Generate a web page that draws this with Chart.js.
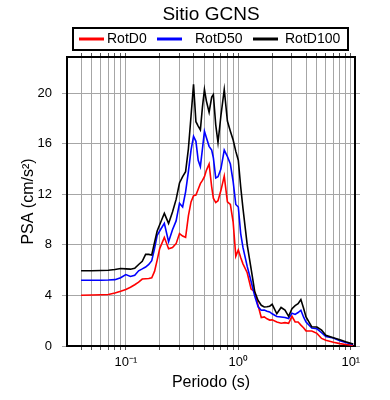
<!DOCTYPE html>
<html>
<head>
<meta charset="utf-8">
<script src="https://cdn.jsdelivr.net/npm/chart.js@4.4.1/dist/chart.umd.min.js"></script>
<style>
  html, body { margin: 0; padding: 0; background: #fff; }
</style>
</head>
<body>
<canvas id="grafico" width="390" height="400"></canvas>
<script>
// Periodos (s) y espectros PSA (cm/s2)
var periodos = [0.04, 0.05, 0.06, 0.07, 0.08, 0.09, 0.10, 0.11, 0.12, 0.13, 0.14, 0.15, 0.16, 0.17, 0.18, 0.19, 0.20,
  0.22, 0.24, 0.26, 0.28, 0.30, 0.32, 0.34, 0.36, 0.38, 0.40, 0.42, 0.44, 0.46, 0.48, 0.50,
  0.52, 0.55, 0.58, 0.60, 0.63, 0.66, 0.70, 0.75, 0.80, 0.85, 0.90, 0.95, 1.00, 1.05, 1.10,
  1.2, 1.3, 1.4, 1.5, 1.6, 1.7, 1.8, 1.9, 2.0,
  2.2, 2.4, 2.6, 2.8, 3.0, 3.2, 3.4, 3.6, 3.8, 4.0,
  4.5, 5.0, 5.5, 6.0, 7.0, 8.0, 9.0, 10.5];

var rotD0 = [4.02, 4.03, 4.05, 4.07, 4.2, 4.33, 4.47, 4.65, 4.85, 5.05, 5.3, 5.32, 5.34, 5.4, 5.9, 6.8, 7.7,
  8.6, 7.7, 7.8, 8.1, 8.9, 8.7, 8.6, 10.3, 11.4, 11.9, 11.94, 12.4, 12.85, 13.1, 13.4,
  13.9, 14.4, 12.6, 11.7, 11.35, 11.5, 12.3, 13.45, 11.4, 11.2, 9.8, 7.1, 7.6, 7.0, 6.5,
  5.8, 4.5, 4.3, 3.2, 2.25, 2.3, 2.15, 2.05, 2.07,
  1.9, 1.8, 1.85, 1.8, 2.35, 1.9, 1.9, 1.65, 1.45, 1.2,
  1.19, 1.0, 0.6, 0.45, 0.3, 0.19, 0.12, 0.05];

var rotD50 = [5.2, 5.2, 5.2, 5.22, 5.25, 5.4, 5.65, 5.5, 5.6, 5.95, 6.1, 6.25, 6.45, 6.75, 7.7, 8.75, 9.1,
  9.7, 8.25, 9.2, 9.9, 11.3, 11.0, 12.2, 13.8, 15.5, 16.6, 16.2, 14.7, 14.2, 15.6, 17.0,
  16.5, 15.8, 15.5, 14.9, 13.3, 13.4, 14.0, 15.5, 15.0, 14.4, 13.0, 11.2, 11.0, 8.9, 7.8,
  6.3, 5.1, 3.95, 3.1, 2.83, 2.85, 2.75, 2.7, 2.55,
  2.33, 2.3, 2.25, 2.17, 2.6, 2.5, 2.65, 2.83, 2.3, 1.9,
  1.42, 1.36, 1.05, 0.75, 0.63, 0.42, 0.28, 0.12];

var rotD100 = [5.95, 5.95, 5.97, 6.0, 6.05, 6.13, 6.1, 6.08, 6.15, 6.45, 6.7, 7.25, 7.25, 7.2, 8.2, 9.1, 9.6,
  10.5, 9.7, 10.6, 11.6, 12.9, 13.4, 13.8, 15.6, 18.2, 20.7, 17.75, 17.4, 17.1, 18.9, 20.3,
  19.4, 18.5, 19.7, 19.9, 17.5, 16.1, 18.2, 20.3, 17.8, 17.0, 16.3, 15.4, 14.7, 12.6, 10.9,
  8.0, 6.1, 4.3, 3.6, 3.22, 3.09, 3.1, 3.15, 3.3,
  2.55, 3.05, 2.85, 2.35, 2.95, 3.2, 3.35, 3.68, 3.0, 2.3,
  1.52, 1.5, 1.25, 0.85, 0.66, 0.5, 0.33, 0.15];

var xTicks = [0.04, 0.05, 0.06, 0.07, 0.08, 0.09, 0.1, 0.2, 0.3, 0.4, 0.5, 0.6, 0.7, 0.8, 0.9, 1, 2, 3, 4, 5, 6, 7, 8, 9, 10];
var xEtiquetas = { "0.1": "10\u207B\u00B9", "1": "10\u2070", "10": "10\u00B9" };
var yTicks = [0, 4, 8, 12, 16, 20];

var FUENTE = '"Liberation Sans", Arial, Helvetica, sans-serif';

function puntos(valores) {
  return periodos.map(function (p, i) {
    return { x: p, y: valores[i] };
  });
}

function setXTicks(scale) {
  scale.ticks = xTicks.map(function (v) { return { value: v }; });
}
function setYTicks(scale) {
  scale.ticks = yTicks.map(function (v) { return { value: v }; });
}

var series = [
  { label: "RotD0", data: rotD0, color: "#ff0000", order: 3 },
  { label: "RotD50", data: rotD50, color: "#0000ff", order: 2 },
  { label: "RotD100", data: rotD100, color: "#000000", order: 1 },
];

// título y leyenda con recuadro
var marcoPlugin = {
  id: "marco",
  afterDraw: function (chart) {
    var ctx = chart.ctx;
    var a = chart.chartArea;
    ctx.save();
    ctx.fillStyle = "#000";
    ctx.font = "19px " + FUENTE;
    ctx.textAlign = "center";
    ctx.textBaseline = "middle";
    ctx.fillText("Sitio GCNS", (a.left + a.right) / 2, 15);

    ctx.fillStyle = "#fff";
    ctx.fillRect(73, 28, 275, 22);
    ctx.lineWidth = 2;
    ctx.strokeStyle = "#000";
    ctx.strokeRect(73, 28, 275, 22);

    var segX = [79, 157, 253];
    var textX = [107, 195, 285];
    ctx.font = "14px " + FUENTE;
    ctx.textAlign = "left";
    chart.data.datasets.forEach(function (ds, i) {
      ctx.strokeStyle = ds.borderColor;
      ctx.lineWidth = 3;
      ctx.beginPath();
      ctx.moveTo(segX[i], 39);
      ctx.lineTo(segX[i] + 25, 39);
      ctx.stroke();
      ctx.fillStyle = "#000";
      ctx.fillText(ds.label, textX[i], 39.5);
    });
    ctx.restore();
  },
};

var gris = "#a6a6a6";
var borde = { display: true, color: "#000", width: 2 };

new Chart(document.getElementById("grafico"), {
  type: "line",
  data: {
    datasets: series.map(function (s) {
      return {
        label: s.label,
        data: puntos(s.data),
        borderColor: s.color,
        backgroundColor: s.color,
        borderWidth: 1.6,
        pointRadius: 0,
        tension: 0,
        order: s.order,
      };
    }),
  },
  options: {
    responsive: false,
    animation: false,
    devicePixelRatio: 1,
    layout: { padding: 0 },
    plugins: {
      legend: { display: false },
      title: { display: false },
      tooltip: { enabled: false },
    },
    scales: {
      x: {
        type: "logarithmic",
        position: "bottom",
        min: 0.03,
        max: 10.9,
        afterBuildTicks: setXTicks,
        afterFit: function (s) { s.height = 54; },
        border: borde,
        grid: { color: gris, lineWidth: 1, drawTicks: true, tickLength: 4, tickColor: "#555" },
        ticks: {
          autoSkip: false,
          maxRotation: 0,
          padding: 5,
          color: "#000",
          font: { family: FUENTE, size: 13 },
          callback: function (v) { return xEtiquetas[String(v)] || ""; },
        },
        title: {
          display: true,
          text: "Periodo (s)",
          color: "#000",
          font: { family: FUENTE, size: 16 },
          padding: { top: 0, bottom: 8 },
        },
      },
      x2: {
        type: "logarithmic",
        position: "top",
        min: 0.03,
        max: 10.9,
        afterBuildTicks: setXTicks,
        afterFit: function (s) { s.height = 57; },
        border: borde,
        grid: { drawOnChartArea: false, drawTicks: true, tickLength: 4, tickColor: "#555" },
        ticks: { display: false },
      },
      y: {
        type: "linear",
        position: "left",
        min: 0,
        max: 22.87,
        afterBuildTicks: setYTicks,
        afterFit: function (s) { s.width = 67; },
        border: borde,
        grid: { color: gris, lineWidth: 1, drawTicks: true, tickLength: 5, tickColor: gris },
        ticks: {
          padding: 10,
          color: "#000",
          font: { family: FUENTE, size: 13 },
        },
        title: {
          display: true,
          text: "PSA (cm/s\u00B2)",
          color: "#000",
          font: { family: FUENTE, size: 16 },
          padding: { top: 19, bottom: 0 },
        },
      },
      y2: {
        type: "linear",
        position: "right",
        min: 0,
        max: 22.87,
        afterBuildTicks: setYTicks,
        afterFit: function (s) { s.width = 35; },
        border: borde,
        grid: { drawOnChartArea: false, drawTicks: true, tickLength: 5, tickColor: gris },
        ticks: { display: false },
      },
    },
  },
  plugins: [marcoPlugin],
});
</script>
</body>
</html>
